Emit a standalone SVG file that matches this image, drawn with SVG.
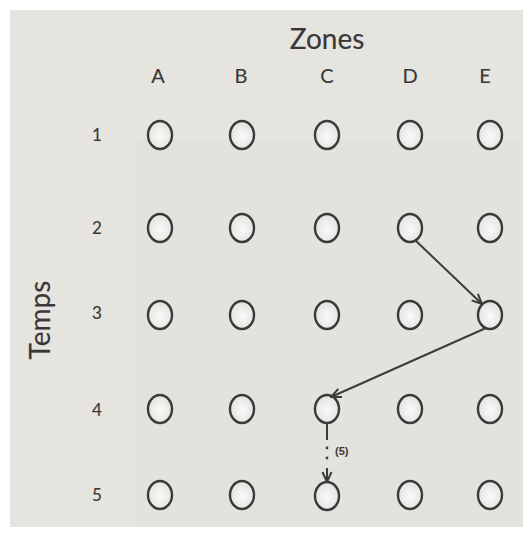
<svg xmlns="http://www.w3.org/2000/svg" width="523" height="545" viewBox="0 0 523 545">
<defs>
<style>
.lbl{font-family:"Lato","DejaVu Sans",sans-serif;fill:#383838;stroke:#383838;stroke-width:0.15;text-anchor:middle}
.col{font-size:20px}
.row{font-size:17px}
.node ellipse{fill:url(#g);stroke:#3a3a3a;stroke-width:2.4}
.conn{stroke:#3c3c3c;stroke-width:2;fill:none}
</style>
<marker id="ah" viewBox="0 0 12 12" refX="11" refY="6" markerWidth="12" markerHeight="12" orient="auto" markerUnits="userSpaceOnUse">
<path d="M1,1.5 L11,6 L1,10.5" fill="none" stroke="#3c3c3c" stroke-width="2"/>
</marker>
<radialGradient id="g" cx="0.5" cy="0.55" r="0.6">
<stop offset="0" stop-color="#fafaf8"/>
<stop offset="1" stop-color="#dfe1dd"/>
</radialGradient>
</defs>
<rect x="0" y="0" width="523" height="545" fill="#ffffff"/>
<rect x="10" y="10" width="513" height="517" fill="#e6e4df"/>
<rect x="135" y="140" width="388" height="387" fill="#e3e2dc"/>
<text class="lbl" x="327" y="49" font-size="28">Zones</text>
<g id="colLabels">
<text class="lbl col" x="158" y="83">A</text>
<text class="lbl col" x="241" y="83">B</text>
<text class="lbl col" x="327" y="83">C</text>
<text class="lbl col" x="410" y="83">D</text>
<text class="lbl col" x="485" y="83">E</text>
</g>
<g id="rowLabels">
<text class="lbl row" x="97" y="141">1</text>
<text class="lbl row" x="97" y="234">2</text>
<text class="lbl row" x="97" y="319">3</text>
<text class="lbl row" x="97" y="416">4</text>
<text class="lbl row" x="97" y="501">5</text>
</g>
<text class="lbl" x="0" y="0" font-size="28" transform="translate(50,320) rotate(-90)">Temps</text>
<g id="A1" class="node"><ellipse cx="160" cy="135" rx="12" ry="14"/></g>
<g id="B1" class="node"><ellipse cx="242" cy="135" rx="12" ry="14"/></g>
<g id="C1" class="node"><ellipse cx="327" cy="135" rx="12" ry="14"/></g>
<g id="D1" class="node"><ellipse cx="410" cy="135" rx="12" ry="14"/></g>
<g id="E1" class="node"><ellipse cx="490" cy="135" rx="12" ry="14"/></g>
<g id="A2" class="node"><ellipse cx="160" cy="228" rx="12" ry="14"/></g>
<g id="B2" class="node"><ellipse cx="242" cy="228" rx="12" ry="14"/></g>
<g id="C2" class="node"><ellipse cx="327" cy="228" rx="12" ry="14"/></g>
<g id="D2" class="node"><ellipse cx="410" cy="228" rx="12" ry="14"/></g>
<g id="E2" class="node"><ellipse cx="490" cy="228" rx="12" ry="14"/></g>
<g id="A3" class="node"><ellipse cx="160" cy="315" rx="12" ry="14"/></g>
<g id="B3" class="node"><ellipse cx="242" cy="315" rx="12" ry="14"/></g>
<g id="C3" class="node"><ellipse cx="327" cy="315" rx="12" ry="14"/></g>
<g id="D3" class="node"><ellipse cx="410" cy="315" rx="12" ry="14"/></g>
<g id="E3" class="node"><ellipse cx="490" cy="315" rx="12" ry="14"/></g>
<g id="A4" class="node"><ellipse cx="160" cy="409" rx="12" ry="14"/></g>
<g id="B4" class="node"><ellipse cx="242" cy="409" rx="12" ry="14"/></g>
<g id="C4" class="node"><ellipse cx="327" cy="409" rx="12" ry="14"/></g>
<g id="D4" class="node"><ellipse cx="410" cy="409" rx="12" ry="14"/></g>
<g id="E4" class="node"><ellipse cx="490" cy="409" rx="12" ry="14"/></g>
<g id="A5" class="node"><ellipse cx="160" cy="495" rx="12" ry="14"/></g>
<g id="B5" class="node"><ellipse cx="242" cy="495" rx="12" ry="14"/></g>
<g id="C5" class="node"><ellipse cx="327" cy="496" rx="12" ry="14"/></g>
<g id="D5" class="node"><ellipse cx="410" cy="495" rx="12" ry="14"/></g>
<g id="E5" class="node"><ellipse cx="490" cy="495" rx="12" ry="14"/></g>
<g id="connectors">
<line class="conn" x1="415" y1="240" x2="482" y2="304" marker-end="url(#ah)"/>
<line class="conn" x1="486" y1="328" x2="331" y2="397" marker-end="url(#ah)"/>
<line class="conn" x1="327" y1="423" x2="327" y2="440"/>
<circle cx="327" cy="448" r="1.4" fill="#3c3c3c"/>
<circle cx="327" cy="458" r="1.4" fill="#3c3c3c"/>
<line class="conn" x1="327" y1="468" x2="327" y2="482" marker-end="url(#ah)"/>
<text x="335" y="455" font-family="Liberation Sans, Arial, sans-serif" font-size="11" font-weight="bold" fill="#3a3a3a">(5)</text>
</g>
</svg>
